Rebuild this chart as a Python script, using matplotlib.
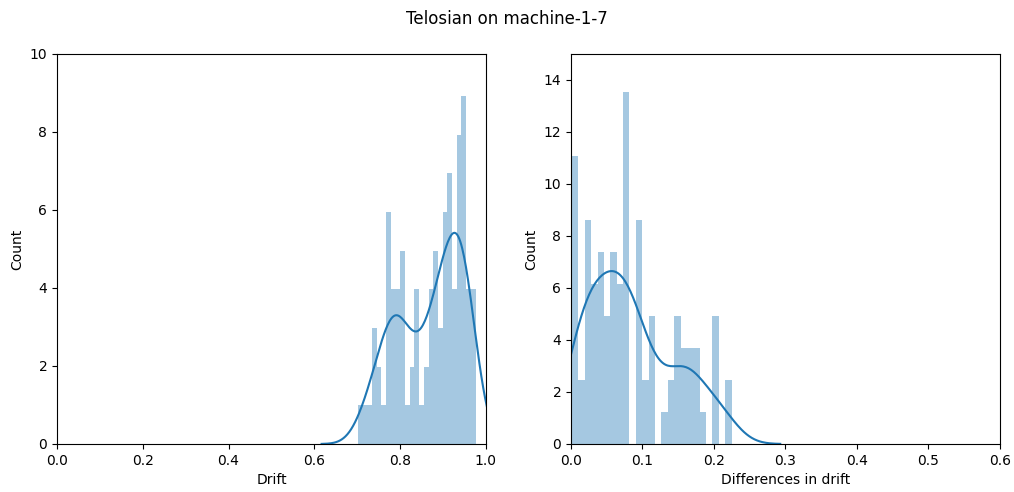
import matplotlib
matplotlib.use("Agg")
import matplotlib.pyplot as plt
import seaborn as sns
import numpy as np

# histogram counts (25 equal bins each)
drift_range = (0.7016, 0.9759)
drift_counts = [1, 1, 1, 3, 2, 1, 6, 4, 4, 5, 1, 2, 4, 1, 2, 4, 5, 3, 6, 7, 4, 8, 9, 4, 4]

diff_range = (0.0014, 0.2247)
diff_counts = [9, 2, 7, 5, 6, 4, 6, 5, 11, 0, 7, 2, 4, 0, 1, 2, 4, 3, 3, 3, 1, 0, 4, 0, 2]

title = "Telosian on machine-1-7"


def samples_from_counts(lo, hi, counts):
    edges = np.linspace(lo, hi, len(counts) + 1)
    centers = (edges[:-1] + edges[1:]) / 2
    return edges, np.repeat(centers, counts)


def dist_panel(ax, lo, hi, counts, xlabel, xlim, ylim):
    edges, values = samples_from_counts(lo, hi, counts)
    ax.hist(values, bins=edges, density=True, color="C0", alpha=0.4)
    sns.kdeplot(x=values, ax=ax, color="C0", linewidth=1.5, cut=3)
    ax.set_xlim(*xlim)
    ax.set_ylim(*ylim)
    ax.set_xlabel(xlabel)
    ax.set_ylabel("Count")


fig = plt.figure(figsize=(10.14, 4.92), dpi=100)
ax1 = fig.add_axes([0.0562, 0.0976, 0.423, 0.793])
ax2 = fig.add_axes([0.5631, 0.0976, 0.423, 0.793])

dist_panel(ax1, drift_range[0], drift_range[1], drift_counts, "Drift", (0, 1), (0, 10))
dist_panel(ax2, diff_range[0], diff_range[1], diff_counts, "Differences in drift", (0, 0.6), (0, 15))
ax2.set_yticks(np.arange(0, 15, 2))

fig.suptitle(title)
fig.savefig("out.png", dpi=100)
